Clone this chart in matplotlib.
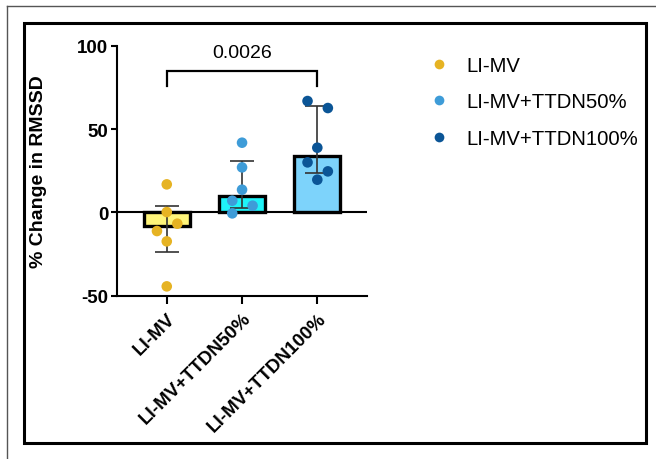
import matplotlib
matplotlib.use("Agg")
import matplotlib.pyplot as plt
from matplotlib.patches import Rectangle
from matplotlib.lines import Line2D
import numpy as np

plt.rcParams['font.family'] = ['Liberation Sans', 'DejaVu Sans']

categories = ["LI-MV", "LI-MV+TTDN50%", "LI-MV+TTDN100%"]
bar_values = [-8.0, 9.6, 33.6]
err_low = [-24.0, 2.6, 23.4]
err_high = [4.0, 30.6, 63.6]
points_g1 = [16.8, 0.2, -6.8, -11.2, -17.4, -44.4]
points_g2 = [41.8, 27.0, 13.6, 7.0, 4.0, -0.6]
points_g3 = [66.8, 62.6, 38.8, 30.0, 24.6, 19.6]
jitter_g1 = [0, 0, 0.14, -0.13, 0, 0]
jitter_g2 = [0, 0, 0, -0.13, 0.14, -0.13]
jitter_g3 = [-0.13, 0.14, 0, -0.13, 0.14, 0]
p_value = "0.0026"
yticks = [-50, 0, 50, 100]

bar_colors = ["#FFF57A", "#1FF3F8", "#7DD3FB"]
pt_colors = ["#E6B323", "#3E9CD8", "#0B5596"]

fig = plt.figure(figsize=(6.56, 4.6), dpi=100)
W, H = 656, 460
ax = fig.add_axes([116.7 / W, 1 - 296.7 / H, (367 - 116.7) / W, (296.7 - 46.7) / H])

x = np.arange(len(categories))
ax.bar(x, bar_values, width=0.61, color=bar_colors, edgecolor="black", linewidth=2.4, zorder=2)

mean = np.array(bar_values)
lo = mean - np.array(err_low)
hi = np.array(err_high) - mean
ax.errorbar(x, mean, yerr=[lo, hi], fmt="none", ecolor="#333333", elinewidth=1.2,
            capsize=8.5, capthick=1.2, zorder=3)

groups = [points_g1, points_g2, points_g3]
jits = [jitter_g1, jitter_g2, jitter_g3]
for i, (vals, jit) in enumerate(zip(groups, jits)):
    ax.scatter(x[i] + np.array(jit), vals, s=58, color=pt_colors[i], zorder=4,
               edgecolors="none", label=categories[i])

ax.axhline(0, color="black", linewidth=1.5, zorder=1)

# significance bracket
ax.plot([0, 0, 2, 2], [75.6, 85, 85, 75.6], color="black", linewidth=1.6,
        clip_on=False, solid_joinstyle="miter")
ax.text(1, 91, p_value, ha="center", va="bottom", fontsize=14)

ax.set_xlim(-0.665, 2.66)
ax.set_ylim(-50, 100)
ax.set_yticks(yticks)
ax.set_yticklabels([str(v) for v in yticks], fontsize=13.5, fontweight="bold")
ax.set_xticks(x)
ax.set_xticklabels(categories, rotation=45, ha="right", va="top",
                   rotation_mode="anchor", fontsize=13.5, fontweight="bold")
ax.tick_params(axis="y", length=4, width=1.5, pad=2)
ax.tick_params(axis="x", length=6, width=1.5, pad=4)
for s in ["top", "right"]:
    ax.spines[s].set_visible(False)
for s in ["left", "bottom"]:
    ax.spines[s].set_linewidth(1.5)

ax.set_ylabel("% Change in RMSSD", fontsize=14, fontweight="bold")
ax.yaxis.set_label_coords((46.7 - 116.7) / (367 - 116.7), 0.5)

handles = [Line2D([], [], marker="o", linestyle="none", markersize=7,
                  markerfacecolor=c, markeredgecolor="none") for c in pt_colors]
fig.legend(handles, categories, loc="upper left",
           bbox_to_anchor=(406 / W, 1 - 39 / H), frameon=False, fontsize=14.6,
           handletextpad=0.6, labelspacing=0.85, handlelength=1.5)

# frames
fig.patches.append(Rectangle((24 / W, 1 - 444 / H), (646 - 24) / W, (444 - 24) / H,
                             transform=fig.transFigure, fill=False,
                             edgecolor="black", linewidth=2.2))
fig.lines.append(Line2D([7 / W, 7 / W], [0, 1 - 7 / H], transform=fig.transFigure,
                        color="#555555", linewidth=1))
fig.lines.append(Line2D([7 / W, 1], [1 - 7 / H, 1 - 7 / H], transform=fig.transFigure,
                        color="#555555", linewidth=1))

fig.savefig("out.png", dpi=100)
